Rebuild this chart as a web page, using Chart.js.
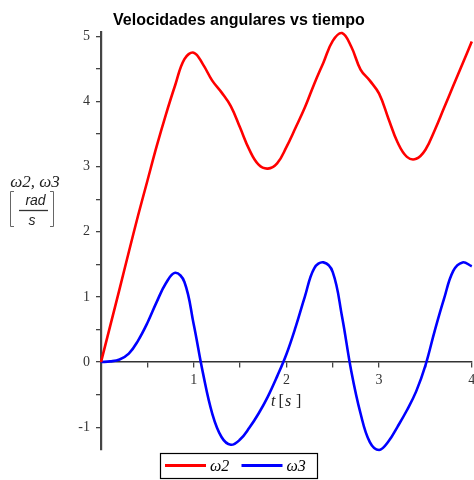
<!DOCTYPE html>
<html>
<head>
<meta charset="utf-8">
<script src="https://cdn.jsdelivr.net/npm/chart.js@4"></script>
<style>
html,body{margin:0;padding:0;background:#ffffff;}
#wrap{width:474px;height:480px;}
</style>
</head>
<body>
<div id="wrap"><canvas id="c" width="474" height="480"></canvas></div>
<script>
// ---- data ----
const chartTitle = 'Velocidades angulares vs tiempo';
const seriesLabels = ['ω2', 'ω3'];
const seriesColors = ['#ff0000', '#0000ff'];
const times = [0.0,0.1,0.2,0.3,0.4,0.5,0.6,0.7,0.8,0.9,1.0,1.1,1.2,1.3,1.4,1.5,1.6,1.7,1.8,1.9,2.0,
               2.1,2.2,2.3,2.4,2.5,2.6,2.7,2.8,2.9,3.0,3.1,3.2,3.3,3.4,3.5,3.6,3.7,3.8,3.9,4.0];
const omega2 = [0.00,0.56,1.12,1.69,2.25,2.78,3.31,3.80,4.25,4.65,4.75,4.57,4.32,4.14,3.93,3.60,3.26,3.03,2.97,3.05,3.30,
                3.60,3.91,4.27,4.60,4.93,5.05,4.84,4.49,4.32,4.12,3.74,3.37,3.15,3.12,3.26,3.56,3.90,4.24,4.58,4.92];
const omega3 = [0.00,0.01,0.04,0.13,0.33,0.60,0.92,1.21,1.37,1.23,0.58,-0.17,-0.79,-1.15,-1.27,-1.19,-1.01,-0.79,-0.53,-0.22,0.12,
                0.54,1.01,1.44,1.53,1.38,0.70,-0.14,-0.79,-1.23,-1.35,-1.22,-0.99,-0.74,-0.45,-0.05,0.48,0.97,1.40,1.53,1.47];
const xTickLabels = [1, 2, 3, 4];
const yTickLabels = [-1, 0, 1, 2, 3, 4, 5];
const xRange = [0, 4];
const yRange = [-1.35, 5.07];
const xAxisTitle = ['t', '[', 's', ']'];
const yAxisTitle = ['ω2, ω3', 'rad', 's'];

const toPoints = (ys) => times.map((t, i) => ({x: t, y: ys[i]}));

const decorations = {
  id: 'decorations',
  beforeDraw(chart) {
    const ctx = chart.ctx;
    ctx.save();
    ctx.fillStyle = '#ffffff';
    ctx.fillRect(0, 0, chart.width, chart.height);
    ctx.restore();
  },
  afterDraw(chart) {
    const ctx = chart.ctx;
    ctx.save();
    // y axis title
    ctx.fillStyle = '#222';
    ctx.textAlign = 'center';
    ctx.textBaseline = 'alphabetic';
    ctx.font = 'italic 17px "Liberation Serif"';
    ctx.fillText(yAxisTitle[0], 35, 187);
    ctx.font = 'italic 14px "Liberation Sans"';
    ctx.fillText(yAxisTitle[1], 35.5, 205);
    ctx.fillText(yAxisTitle[2], 32, 225);
    ctx.strokeStyle = '#333';
    ctx.lineWidth = 1.3;
    ctx.beginPath();
    ctx.moveTo(19, 210.5); ctx.lineTo(48, 210.5);
    ctx.stroke();
    ctx.strokeStyle = '#666';
    ctx.lineWidth = 1;
    ctx.beginPath();
    ctx.moveTo(14, 191.5); ctx.lineTo(10.5, 191.5); ctx.lineTo(10.5, 226.5); ctx.lineTo(14, 226.5);
    ctx.moveTo(50, 191.5); ctx.lineTo(53.5, 191.5); ctx.lineTo(53.5, 226.5); ctx.lineTo(50, 226.5);
    ctx.stroke();

    // x axis title
    ctx.textAlign = 'left';
    ctx.fillStyle = '#222';
    ctx.font = 'italic 16px "Liberation Serif"';
    ctx.fillText(xAxisTitle[0], 271, 406);
    ctx.font = '16px "Liberation Serif"';
    ctx.fillText(xAxisTitle[1], 278.5, 406);
    ctx.font = 'italic 16px "Liberation Serif"';
    ctx.fillText(xAxisTitle[2], 285, 406);
    ctx.font = '16px "Liberation Serif"';
    ctx.fillText(xAxisTitle[3], 296, 406);

    // legend
    ctx.strokeStyle = '#000';
    ctx.lineWidth = 1.2;
    ctx.strokeRect(160.5, 453.5, 157, 25);
    chart.data.datasets.forEach((ds, i) => {
      const x0 = 165 + i * 76.5;
      ctx.strokeStyle = ds.borderColor;
      ctx.lineWidth = 3;
      ctx.beginPath();
      ctx.moveTo(x0, 465.5);
      ctx.lineTo(x0 + 41, 465.5);
      ctx.stroke();
      ctx.fillStyle = '#000';
      ctx.font = 'italic 16px "Liberation Serif"';
      ctx.textAlign = 'left';
      ctx.fillText(ds.label, x0 + 45, 471);
    });
    ctx.restore();
  }
};

const isHalfStep = (v) => Math.abs(v * 2 - Math.round(v * 2)) < 1e-9;

new Chart(document.getElementById('c'), {
  type: 'line',
  data: {
    datasets: [
      {label: seriesLabels[0], data: toPoints(omega2), borderColor: seriesColors[0], backgroundColor: seriesColors[0],
       borderWidth: 2.6, pointRadius: 0, tension: 0.4, fill: false, clip: 6},
      {label: seriesLabels[1], data: toPoints(omega3), borderColor: seriesColors[1], backgroundColor: seriesColors[1],
       borderWidth: 2.6, pointRadius: 0, tension: 0.4, fill: false, clip: 6}
    ]
  },
  options: {
    responsive: false,
    animation: false,
    devicePixelRatio: 1,
    layout: {padding: {left: 6, right: 2.2, top: 0, bottom: 30}},
    plugins: {
      legend: {display: false},
      tooltip: {enabled: false},
      title: {
        display: true,
        text: chartTitle,
        color: '#000',
        font: {family: '"Liberation Sans", Arial, sans-serif', size: 16, weight: 'bold'},
        padding: {top: 10.5, bottom: 2.1}
      }
    },
    scales: {
      x: {
        type: 'linear',
        min: xRange[0], max: xRange[1],
        position: {y: 0},
        afterFit(s) { s.paddingLeft = 0; s.paddingRight = 0; },
        ticks: {
          stepSize: 0.5,
          autoSkip: false,
          maxRotation: 0,
          padding: 5,
          color: '#333',
          font: {family: '"Liberation Serif"', size: 14},
          callback: (v) => xTickLabels.includes(v) ? String(v) : ''
        },
        grid: {display: true, drawOnChartArea: false, drawTicks: true, tickLength: 5, color: '#444', lineWidth: 1.3},
        border: {display: true, color: '#333', width: 1.4}
      },
      y: {
        type: 'linear',
        min: yRange[0], max: yRange[1],
        position: 'left',
        afterFit(s) { s.width = 95; },
        afterBuildTicks(s) { s.ticks = s.ticks.filter(t => isHalfStep(t.value)); },
        ticks: {
          stepSize: 0.5,
          includeBounds: false,
          autoSkip: false,
          padding: 6,
          color: '#333',
          font: {family: '"Liberation Serif"', size: 14},
          callback: (v) => yTickLabels.includes(v) ? (v < 0 ? '-' + Math.abs(v) : String(v)) : ''
        },
        grid: {display: true, drawOnChartArea: false, drawTicks: true, tickLength: 5, color: '#444', lineWidth: 1.3},
        border: {display: true, color: '#444', width: 2.2}
      }
    }
  },
  plugins: [decorations]
});
</script>
</body>
</html>
